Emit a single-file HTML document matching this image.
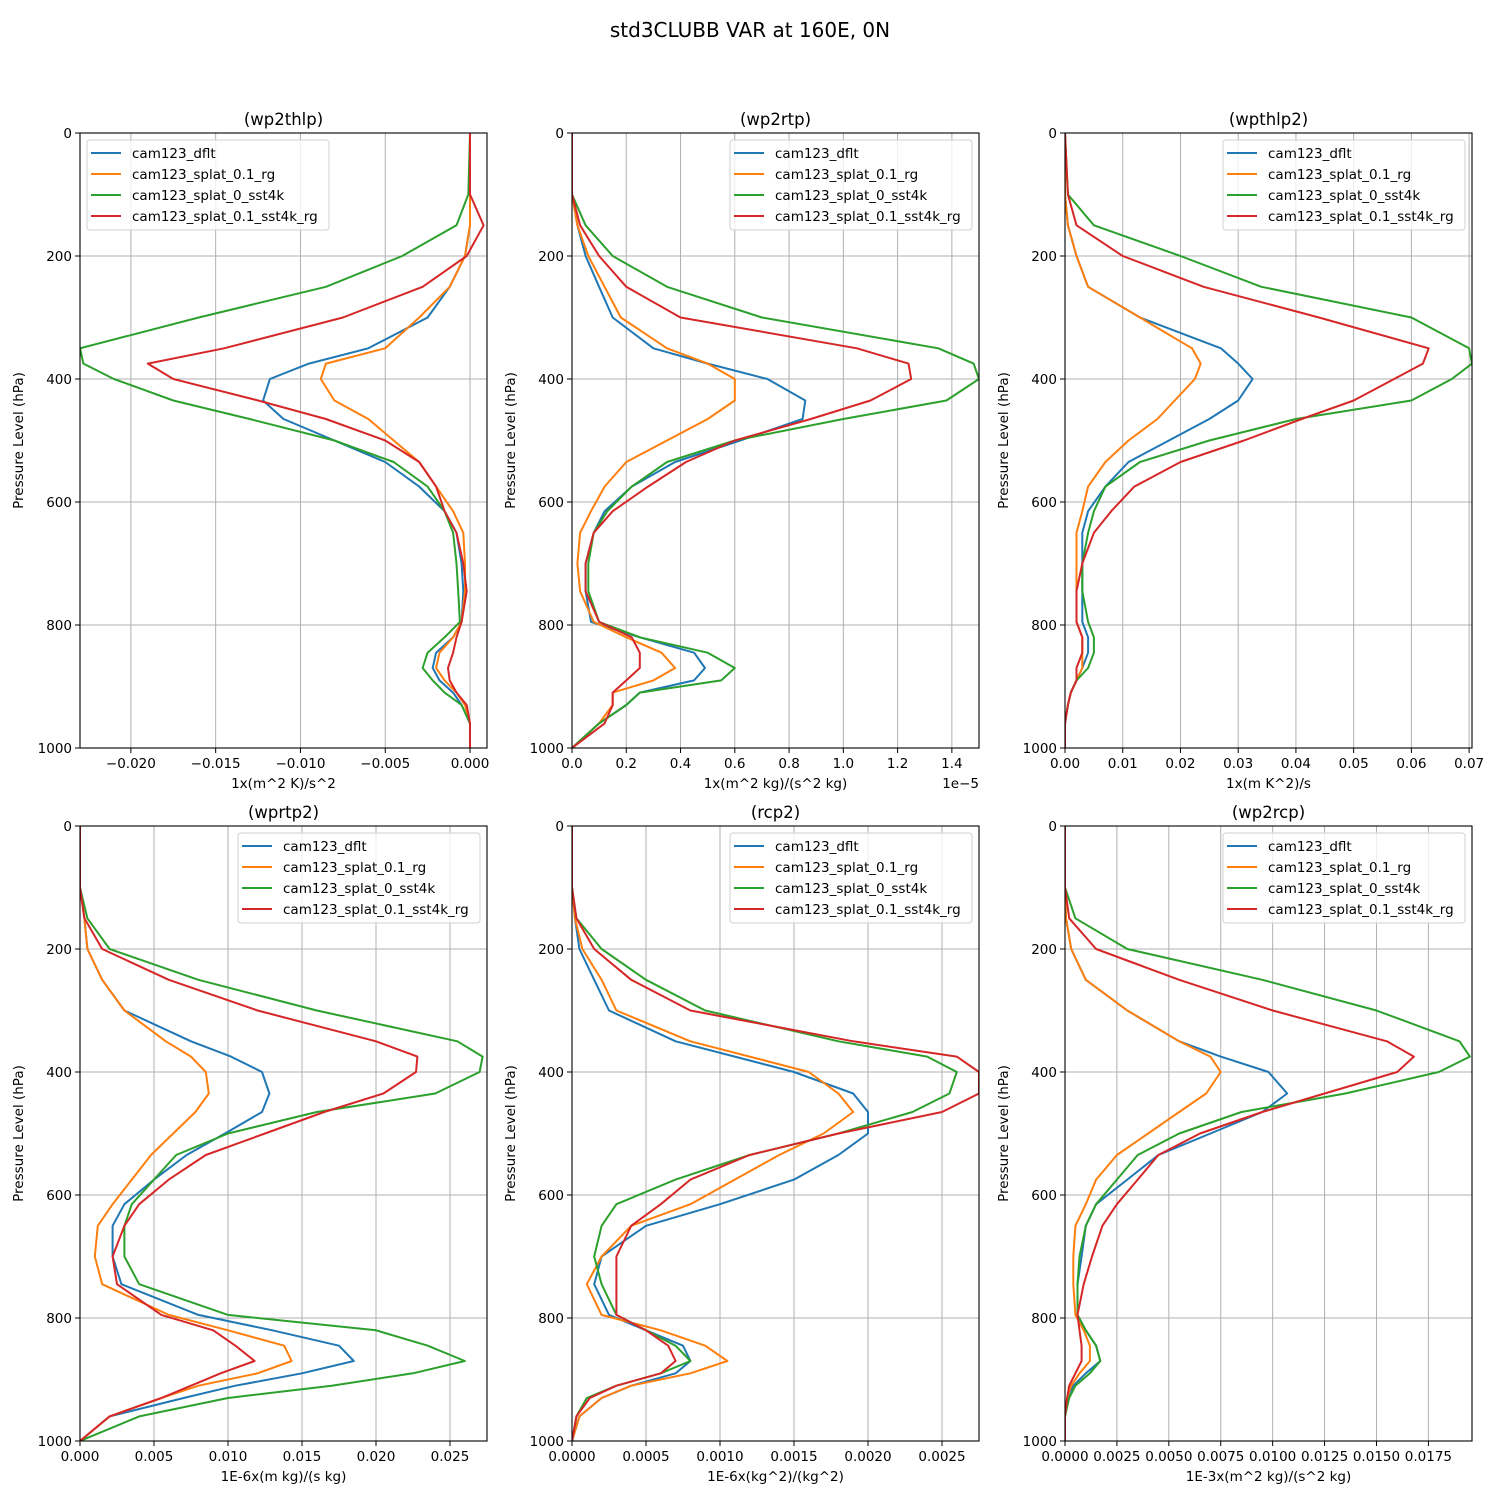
<!DOCTYPE html>
<html><head><meta charset="utf-8">
<style>
html,body{margin:0;padding:0;background:#fff;}
svg{display:block;font-family:"DejaVu Sans","Liberation Sans",sans-serif;}
</style></head>
<body>
<svg id="fig" width="1500" height="1500" viewBox="0 0 1500 1500" xmlns="http://www.w3.org/2000/svg">
<rect width="1500" height="1500" fill="#fff"/>
<text x="750" y="37" text-anchor="middle" font-size="20">std3CLUBB VAR at 160E, 0N</text>
</svg>
<script>
const levels = [0,100,150,200,250,300,350,375,400,435,465,500,535,575,615,650,700,745,795,820,845,870,890,910,930,960,1000];
const seriesNames = ["cam123_dflt","cam123_splat_0.1_rg","cam123_splat_0_sst4k","cam123_splat_0.1_sst4k_rg"];
const colors = ["#1f77b4","#ff7f0e","#2ca02c","#d62728"];
const yTicks = [0,200,400,600,800,1000];

const p1Blue = [0,0,0,-0.0003,-0.0012,-0.0025,-0.006,-0.0095,-0.0118,-0.0122,-0.011,-0.008,-0.005,-0.003,-0.0015,-0.0008,-0.0005,-0.0004,-0.0005,-0.001,-0.002,-0.0022,-0.0018,-0.001,-0.0005,0,0];
const p1Orange = [0,0,0,-0.0003,-0.0012,-0.003,-0.005,-0.0085,-0.0088,-0.008,-0.006,-0.0045,-0.003,-0.002,-0.001,-0.0004,-0.0003,-0.0003,-0.0005,-0.001,-0.0018,-0.002,-0.0015,-0.0008,-0.0003,0,0];
const p1Green = [0,-0.0001,-0.0008,-0.004,-0.0085,-0.016,-0.023,-0.0228,-0.021,-0.0175,-0.013,-0.008,-0.0045,-0.0025,-0.0015,-0.001,-0.0008,-0.0007,-0.0006,-0.0015,-0.0025,-0.0028,-0.0022,-0.0015,-0.0005,0,0];
const p1Red = [0,0,0.0008,-0.0002,-0.0028,-0.0075,-0.0145,-0.019,-0.0175,-0.0125,-0.0085,-0.005,-0.003,-0.002,-0.0015,-0.0008,-0.0004,-0.0002,-0.0005,-0.0008,-0.001,-0.0013,-0.0012,-0.0008,-0.0002,0,0];
const p1Ticks = [-0.020,-0.015,-0.010,-0.005,0.000];
const p1TickLabels = ["\u22120.020","\u22120.015","\u22120.010","\u22120.005","0.000"];

const p2Blue = [0,0,0.02,0.05,0.1,0.15,0.3,0.5,0.72,0.86,0.85,0.62,0.38,0.22,0.12,0.08,0.05,0.05,0.07,0.25,0.45,0.49,0.45,0.25,0.2,0.1,0];
const p2Orange = [0,0,0.02,0.06,0.12,0.18,0.35,0.5,0.6,0.6,0.5,0.35,0.2,0.12,0.07,0.03,0.02,0.03,0.08,0.2,0.33,0.38,0.3,0.15,0.15,0.1,0];
const p2Green = [0,0,0.05,0.15,0.35,0.7,1.35,1.48,1.5,1.38,1.0,0.6,0.35,0.22,0.13,0.08,0.06,0.06,0.1,0.25,0.5,0.6,0.55,0.25,0.2,0.1,0];
const p2Red = [0,0,0.03,0.1,0.2,0.4,1.05,1.24,1.25,1.1,0.88,0.6,0.42,0.28,0.15,0.08,0.05,0.05,0.1,0.22,0.25,0.25,0.2,0.15,0.15,0.12,0];
const p2Ticks = [0,0.2,0.4,0.6,0.8,1.0,1.2,1.4];
const p2TickLabels = ["0.0","0.2","0.4","0.6","0.8","1.0","1.2","1.4"];

const p3Blue = [0,0,0.0005,0.002,0.004,0.013,0.027,0.03,0.0325,0.03,0.025,0.018,0.011,0.007,0.004,0.003,0.003,0.003,0.003,0.004,0.004,0.003,0.002,0.001,0.0005,0,0];
const p3Orange = [0,0,0.0005,0.002,0.004,0.013,0.022,0.0235,0.0225,0.019,0.016,0.011,0.007,0.004,0.003,0.002,0.002,0.002,0.002,0.003,0.003,0.003,0.002,0.001,0.0005,0,0];
const p3Green = [0,0.0005,0.005,0.02,0.034,0.06,0.07,0.0705,0.067,0.06,0.04,0.025,0.013,0.007,0.005,0.004,0.003,0.003,0.004,0.005,0.005,0.004,0.002,0.001,0.0005,0,0];
const p3Red = [0,0.0005,0.002,0.01,0.024,0.044,0.063,0.062,0.057,0.05,0.041,0.031,0.02,0.012,0.008,0.005,0.003,0.002,0.002,0.003,0.003,0.002,0.002,0.001,0.0005,0,0];
const p3Ticks = [0,0.01,0.02,0.03,0.04,0.05,0.06,0.07];
const p3TickLabels = ["0.00","0.01","0.02","0.03","0.04","0.05","0.06","0.07"];

const p4Blue = [0,0,0.0003,0.0005,0.0015,0.003,0.0075,0.0102,0.0123,0.0128,0.0123,0.0098,0.0072,0.005,0.003,0.0022,0.0022,0.0028,0.008,0.013,0.0175,0.0185,0.015,0.0105,0.007,0.002,0];
const p4Orange = [0,0,0.0003,0.0005,0.0015,0.003,0.0058,0.0075,0.0085,0.0087,0.0078,0.0063,0.0048,0.0035,0.0022,0.0012,0.001,0.0015,0.006,0.01,0.0138,0.0143,0.012,0.008,0.0055,0.002,0];
const p4Green = [0,0,0.0005,0.002,0.008,0.016,0.0255,0.0272,0.027,0.024,0.016,0.01,0.0065,0.005,0.0035,0.003,0.003,0.004,0.01,0.02,0.0235,0.026,0.0225,0.017,0.01,0.004,0];
const p4Red = [0,0,0.0003,0.0015,0.006,0.012,0.02,0.0228,0.0227,0.0205,0.0165,0.0125,0.0085,0.006,0.004,0.003,0.0022,0.0025,0.0055,0.009,0.0105,0.0118,0.0095,0.0075,0.0055,0.002,0];
const p4Ticks = [0,0.005,0.010,0.015,0.020,0.025];
const p4TickLabels = ["0.000","0.005","0.010","0.015","0.020","0.025"];

const p5Blue = [0,0,0.00002,0.00005,0.00015,0.00025,0.0007,0.0011,0.0015,0.0019,0.002,0.002,0.0018,0.0015,0.001,0.0005,0.0002,0.00015,0.00025,0.0005,0.00075,0.0008,0.0007,0.0004,0.0002,0.00005,0];
const p5Orange = [0,0,0.00002,0.00007,0.0002,0.0003,0.0008,0.0012,0.0016,0.0018,0.0019,0.0017,0.0014,0.0011,0.0008,0.0004,0.0002,0.0001,0.0002,0.0006,0.0009,0.00105,0.0008,0.0004,0.0002,0.00005,0];
const p5Green = [0,0,0.00003,0.0002,0.0005,0.0009,0.0018,0.0024,0.0026,0.00255,0.0023,0.0018,0.0012,0.0007,0.0003,0.0002,0.00015,0.0002,0.0003,0.0005,0.0007,0.0008,0.0006,0.0003,0.0001,0.00003,0];
const p5Red = [0,0,0.00003,0.00015,0.0004,0.0008,0.0019,0.0026,0.00275,0.00275,0.0025,0.0018,0.0012,0.0008,0.0006,0.0004,0.0003,0.0003,0.0003,0.0005,0.00065,0.0007,0.0006,0.0003,0.00012,0.00003,0];
const p5Ticks = [0,0.0005,0.0010,0.0015,0.0020,0.0025];
const p5TickLabels = ["0.0000","0.0005","0.0010","0.0015","0.0020","0.0025"];

const p6Blue = [0,0,0.00005,0.0003,0.001,0.003,0.0055,0.0075,0.0098,0.0107,0.0095,0.007,0.0045,0.003,0.0015,0.001,0.0008,0.0006,0.0006,0.001,0.0015,0.0017,0.001,0.0004,0.0001,0,0];
const p6Orange = [0,0,0.00005,0.0003,0.001,0.003,0.0055,0.007,0.0075,0.0068,0.0055,0.004,0.0025,0.0015,0.001,0.0005,0.0004,0.0004,0.0005,0.0009,0.0012,0.0012,0.0007,0.0003,0.0001,0,0];
const p6Green = [0,0,0.0005,0.003,0.0095,0.015,0.019,0.0195,0.018,0.0135,0.0085,0.0055,0.0035,0.0025,0.0015,0.001,0.0007,0.0006,0.0006,0.001,0.0015,0.0017,0.0012,0.0005,0.0002,0,0];
const p6Red = [0,0,0.0002,0.0015,0.0055,0.01,0.0155,0.0168,0.016,0.0125,0.0095,0.0065,0.0045,0.0035,0.0025,0.0018,0.0013,0.0009,0.0006,0.0007,0.0008,0.0008,0.0005,0.0002,0.0001,0,0];
const p6Ticks = [0,0.0025,0.0050,0.0075,0.0100,0.0125,0.0150,0.0175];
const p6TickLabels = ["0.0000","0.0025","0.0050","0.0075","0.0100","0.0125","0.0150","0.0175"];

const panels = [
 {key:"wp2thlp",title:"(wp2thlp)",xlabel:"1x(m^2 K)/s^2",x:80,y:133,xmin:-0.0230,xmax:0.0010,series:[p1Blue,p1Orange,p1Green,p1Red],ticks:p1Ticks,labels:p1TickLabels,legendLeft:true},
 {key:"wp2rtp",title:"(wp2rtp)",xlabel:"1x(m^2 kg)/(s^2 kg)",x:572,y:133,xmin:0,xmax:1.5,series:[p2Blue,p2Orange,p2Green,p2Red],ticks:p2Ticks,labels:p2TickLabels,offset:"1e\u22125"},
 {key:"wpthlp2",title:"(wpthlp2)",xlabel:"1x(m K^2)/s",x:1065,y:133,xmin:0,xmax:0.0705,series:[p3Blue,p3Orange,p3Green,p3Red],ticks:p3Ticks,labels:p3TickLabels},
 {key:"wprtp2",title:"(wprtp2)",xlabel:"1E-6x(m kg)/(s kg)",x:80,y:826,xmin:0,xmax:0.0275,series:[p4Blue,p4Orange,p4Green,p4Red],ticks:p4Ticks,labels:p4TickLabels},
 {key:"rcp2",title:"(rcp2)",xlabel:"1E-6x(kg^2)/(kg^2)",x:572,y:826,xmin:0,xmax:0.00275,series:[p5Blue,p5Orange,p5Green,p5Red],ticks:p5Ticks,labels:p5TickLabels},
 {key:"wp2rcp",title:"(wp2rcp)",xlabel:"1E-3x(m^2 kg)/(s^2 kg)",x:1065,y:826,xmin:0,xmax:0.0196,series:[p6Blue,p6Orange,p6Green,p6Red],ticks:p6Ticks,labels:p6TickLabels}
];
const W=407,H=615;
const NS="http://www.w3.org/2000/svg";
const fig=document.getElementById("fig");
function mk(tag,attrs,parent){const e=document.createElementNS(NS,tag);for(const k in attrs)e.setAttribute(k,attrs[k]);(parent||fig).appendChild(e);return e;}

panels.forEach(P=>{
  const g=mk("g",{});
  
  
  const sx=v=>P.x+(v-P.xmin)/(P.xmax-P.xmin)*W;
  const sy=p=>P.y+p/1000*H;
  const cp=mk("clipPath",{id:"c-"+P.key},g);
  mk("rect",{x:P.x,y:P.y,width:W,height:H},cp);
  P.ticks.forEach((t,i)=>{
    const X=sx(t);
    const gl=mk("line",{x1:X,x2:X,y1:P.y,y2:P.y+H,stroke:"#b0b0b0","stroke-width":1},g);
    
    
    mk("line",{x1:X,x2:X,y1:P.y+H,y2:P.y+H+5,stroke:"#000","stroke-width":1},g);
    const tl=mk("text",{x:X,y:P.y+H+20,"text-anchor":"middle","font-size":13.5},g);
    tl.textContent=P.labels[i];
    
    
  });
  yTicks.forEach(t=>{
    const Y=sy(t);
    const gl=mk("line",{x1:P.x,x2:P.x+W,y1:Y,y2:Y,stroke:"#b0b0b0","stroke-width":1},g);
    
    
    mk("line",{x1:P.x-5,x2:P.x,y1:Y,y2:Y,stroke:"#000","stroke-width":1},g);
    const tl=mk("text",{x:P.x-8,y:Y+5,"text-anchor":"end","font-size":13.5},g);
    tl.textContent=String(t);
    
    
  });
  const sg=mk("g",{"clip-path":"url(#c-"+P.key+")"},g);
  P.series.forEach((vals,si)=>{
    const pts=vals.map((v,i)=>sx(v).toFixed(1)+","+sy(levels[i]).toFixed(1)).join(" ");
    const pl=mk("polyline",{points:pts,fill:"none",stroke:colors[si],"stroke-width":2,"stroke-linejoin":"round","stroke-linecap":"square"},sg);
    
    
  });
  const fr=mk("rect",{x:P.x,y:P.y,width:W,height:H,fill:"none",stroke:"#000","stroke-width":1.1},g);
  
  
  const tt=mk("text",{x:P.x+W/2,y:P.y-8,"text-anchor":"middle","font-size":16.5},g);
  tt.textContent=P.title;
  
  
  const xl=mk("text",{x:P.x+W/2,y:P.y+H+40,"text-anchor":"middle","font-size":13.5},g);
  xl.textContent=P.xlabel;
  
  
  const yx=P.x-57, yy=P.y+H/2;
  const yl=mk("text",{x:yx,y:yy,"text-anchor":"middle","font-size":13.5,transform:"rotate(-90 "+yx+" "+yy+")"},g);
  yl.textContent="Pressure Level (hPa)";
  
  
  if(P.offset){
    const ot=mk("text",{x:P.x+W,y:P.y+H+40,"text-anchor":"end","font-size":13.5},g);
    ot.textContent=P.offset;
    
    
  }
  const lw=242, lh=90;
  const lx=P.legendLeft? P.x+7 : P.x+W-7-lw, ly=P.y+7;
  const lg=mk("g",{},g);
  
  
  mk("rect",{x:lx,y:ly,width:lw,height:lh,rx:3,fill:"#fff","fill-opacity":0.8,stroke:"#d0d0d0","stroke-width":1},lg);
  seriesNames.forEach((n,i)=>{
    const ry=ly+13+i*21;
    const ent=mk("g",{},lg);
    
    
    mk("line",{x1:lx+4,x2:lx+34,y1:ry,y2:ry,stroke:colors[i],"stroke-width":2},ent);
    const t=mk("text",{x:lx+45,y:ry+5,"font-size":13.5},ent);
    t.textContent=n;
  });
});
</script>
</body></html>
